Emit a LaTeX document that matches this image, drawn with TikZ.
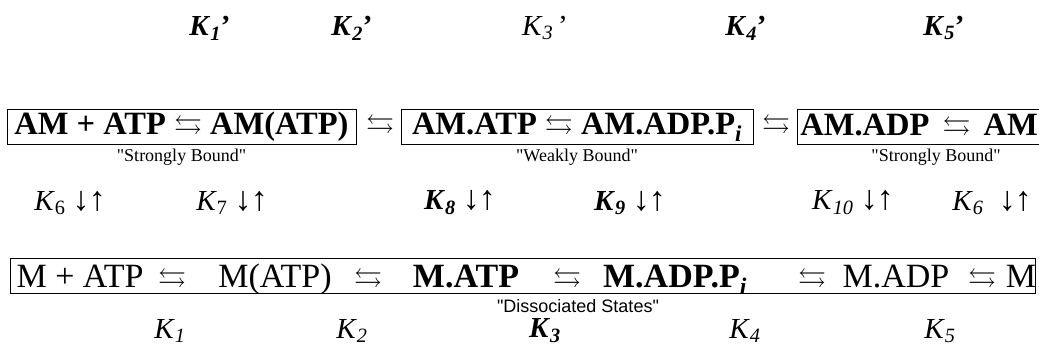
\documentclass[tikz,border=0pt]{standalone}
\usepackage{amssymb}
\usepackage{fontspec}
\setmainfont{Liberation Serif}
\newfontfamily\tagserif{Liberation Serif}
\newfontfamily\tagsans{Liberation Sans}
\usetikzlibrary{positioning}
\tikzset{
    statebox/.style={
        draw, line width=0.8pt, minimum height=34pt,
        inner sep=3pt, font=\fontsize{32.5}{32.5}\selectfont\bfseries
    },
    eqtext/.style={
        font=\fontsize{34}{34}\selectfont, inner sep=0pt, anchor=base
    },
    eqbold/.style={
        eqtext, font=\fontsize{34}{34}\selectfont\bfseries
    },
    klabel/.style={
        font=\fontsize{29}{29}\selectfont, inner sep=0pt
    },
    tag/.style={
        font=\fontsize{18}{18}\selectfont\tagserif, inner sep=0pt
    }
}
\newcommand{\rx}{{\fontsize{28}{28}\selectfont$\leftrightarrows$}}
\newcommand{\kk}[1]{\textit{K}\textsubscript{\textit{#1}}}
\newcommand{\du}{{\fontsize{34}{34}\selectfont\bfseries\char"2193\kern-1pt\char"2191}}

\begin{document}
\begin{tikzpicture}[x=1pt, y=-1pt]
    \useasboundingbox (0,0) rectangle (1039,348);
    \coordinate (rim) at (1039,0);

    % bound states
    \node[statebox, minimum width=349pt] (sb1) at (181.5,127) {AM + ATP \rx\ AM(ATP)};
    \node[inner sep=0pt] (ra1) at (380,127) {\rx};
    \node[statebox, minimum width=352pt] (wb) at (577,127) {AM.ATP \rx\ AM.ADP.P\textsubscript{\textit{i}}};
    \node[inner sep=0pt] (ra2) at (776,127) {\rx};
    \node[statebox, draw=none, anchor=west] (sb2) at (797,127) {AM.ADP\hspace{5pt} \rx\hspace{5pt} AM};
    \draw[line width=0.8pt] (sb2.north west -| rim) -- (sb2.north west) -- (sb2.south west) -- (sb2.south west -| rim);

    \node[tag, below=4pt of sb1] (t1) {"Strongly Bound"};
    \node[tag, below=4pt of wb] (t2) {"Weakly Bound"};
    \node[tag] (t3) at (t2 -| 936,0) {"Strongly Bound"};

    % rate constants, bound row
    \node[klabel] (kp1) at (210,28) {\textbf{\kk{1}'}};
    \node[klabel] (kp2) at (352,28) {\textbf{\kk{2}'}};
    \node[klabel] (kp3) at (545,28) {\kk{3}\,'};
    \node[klabel] (kp4) at (746,28) {\textbf{\kk{4}'}};
    \node[klabel] (kp5) at (944,28) {\textbf{\kk{5}'}};

    % vertical equilibria
    \node[klabel] (v1) at (70,203) {\textit{K}\textsubscript{6} \du};
    \node[klabel] (v2) at (232,203) {\textit{K}\textsubscript{7} \du};
    \node[klabel] (v3) at (460,203) {\textbf{\kk{8}} \du};
    \node[klabel] (v4) at (630,203) {\textbf{\kk{9}} \du};
    \node[klabel] (v5) at (853,203) {\kk{10} \du};
    \node[klabel] (v6) at (992,203) {\kk{6}\hspace{8pt} \du};

    % dissociated states
    \node[draw, line width=0.8pt, minimum width=1025pt, minimum height=35pt] (ds) at (522.5,276) {};
    \node[eqtext] (m1) at (80,287) {M + ATP};
    \node[eqtext] (r1) at (172,287) {\rx};
    \node[eqtext] (m2) at (275,287) {M(ATP)};
    \node[eqtext] (r2) at (368,287) {\rx};
    \node[eqbold] (m3) at (466,287) {M.ATP};
    \node[eqbold] (r3) at (567,287) {\rx};
    \node[eqbold] (m4) at (675,287) {M.ADP.P\textsubscript{\textit{i}}};
    \node[eqtext] (r4) at (812,287) {\rx};
    \node[eqtext] (m5) at (896,287) {M.ADP};
    \node[eqtext] (r5) at (982,287) {\rx};
    \node[eqtext] (m6) at (1021,287) {M};
    \node[tag, font=\fontsize{18}{18}\selectfont\tagsans] (t4) at (578,306) {"Dissociated States"};

    % rate constants, dissociated row
    \node[klabel] (k1) at (170,331) {\kk{1}};
    \node[klabel] (k2) at (352,331) {\kk{2}};
    \node[klabel] (k3) at (545,331) {\textbf{\kk{3}}};
    \node[klabel] (k4) at (745,331) {\kk{4}};
    \node[klabel] (k5) at (940,331) {\kk{5}};
\end{tikzpicture}
\end{document}
